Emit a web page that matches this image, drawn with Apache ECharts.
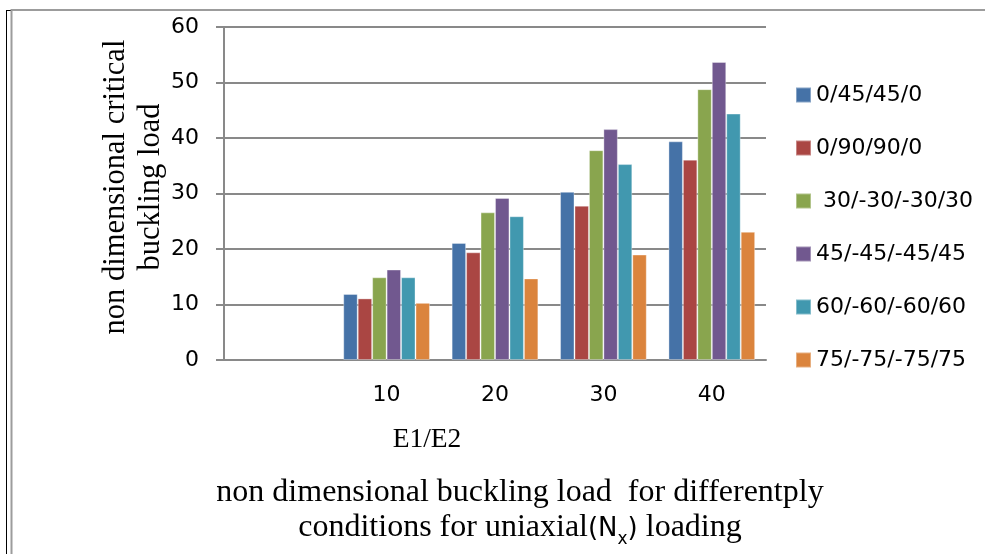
<!DOCTYPE html>
<html>
<head>
<meta charset="utf-8">
<script src="https://cdn.jsdelivr.net/npm/echarts@6/dist/echarts.min.js"></script>
<style>
  html, body { margin: 0; padding: 0; background: #ffffff; }
  #chart { width: 985px; height: 554px; }
</style>
</head>
<body>
<div id="chart"></div>
<script>
// E1/E2 ratio categories (first slot left empty)
const categories = ['', '10', '20', '30', '40'];

// Ply layups
const seriesNames = ['0/45/45/0', '0/90/90/0', ' 30/-30/-30/30', '45/-45/-45/45', '60/-60/-60/60', '75/-75/-75/75'];

// Non-dimensional critical buckling load per layup
const layup0_45   = [null, 11.9, 21.1, 30.3, 39.4];
const layup0_90   = [null, 11.1, 19.4, 27.8, 36.1];
const layup30_30  = [null, 14.9, 26.6, 37.8, 48.8];
const layup45_45  = [null, 16.3, 29.2, 41.6, 53.7];
const layup60_60  = [null, 14.9, 25.9, 35.3, 44.4];
const layup75_75  = [null, 10.3, 14.7, 19.0, 23.1];

const yTicks = { min: 0, max: 60, interval: 10 };

const palette = ['#4572A7', '#AA4643', '#89A54E', '#71588F', '#4198AF', '#DB843D'];

const seriesValues = [layup0_45, layup0_90, layup30_30, layup45_45, layup60_60, layup75_75];

const SANS = 'DejaVu Sans';
const SERIF = 'Liberation Serif';
const GRID_GRAY = '#898989';

const chart = echarts.init(document.getElementById('chart'), null, { renderer: 'canvas' });

const option = {
  backgroundColor: '#ffffff',
  animation: false,
  color: palette,
  grid: { left: 224, right: 219, top: 27, bottom: 194 },
  legend: {
    orient: 'vertical',
    left: 795,
    top: 84,
    padding: 0,
    itemWidth: 15,
    itemHeight: 15,
    itemGap: 31,
    icon: 'rect',
    data: seriesNames,
    textStyle: { fontFamily: SANS, fontSize: 22, color: '#000000', lineHeight: 15 }
  },
  xAxis: {
    type: 'category',
    data: categories,
    axisLine: { show: true, lineStyle: { color: GRID_GRAY, width: 2 } },
    axisTick: { show: false },
    axisLabel: { fontFamily: SANS, fontSize: 22, color: '#000000', margin: 24 },
    splitLine: { show: false }
  },
  yAxis: {
    type: 'value',
    min: yTicks.min,
    max: yTicks.max,
    interval: yTicks.interval,
    axisLine: { show: true, lineStyle: { color: GRID_GRAY, width: 2 } },
    axisTick: { show: true, length: 8, lineStyle: { color: GRID_GRAY, width: 2 } },
    axisLabel: { fontFamily: SANS, fontSize: 22, color: '#000000', margin: 25 },
    splitLine: { show: true, lineStyle: { color: GRID_GRAY, width: 2 } }
  },
  series: seriesNames.map((name, i) => ({
    name: name,
    type: 'bar',
    data: seriesValues[i],
    barGap: '0%',
    barCategoryGap: '20%',
    itemStyle: { color: palette[i], borderColor: 'rgba(255,255,255,0.35)', borderWidth: 1 }
  })),
  graphic: [
    // outer frame
    { type: 'line', silent: true, shape: { x1: 6.5, y1: 10, x2: 6.5, y2: 554 }, style: { stroke: '#000000', lineWidth: 1 } },
    { type: 'line', silent: true, shape: { x1: 6, y1: 10.5, x2: 11, y2: 10.5 }, style: { stroke: '#000000', lineWidth: 1 } },
    { type: 'line', silent: true, shape: { x1: 11.5, y1: 9, x2: 11.5, y2: 554 }, style: { stroke: '#9c9c9c', lineWidth: 2 } },
    { type: 'line', silent: true, shape: { x1: 11, y1: 10, x2: 985, y2: 10 }, style: { stroke: '#9c9c9c', lineWidth: 2 } },
    // value axis title
    {
      type: 'text', silent: true,
      x: 133, y: 187, rotation: Math.PI / 2,
      style: {
        text: 'non dimensional critical\nbuckling load',
        fontFamily: SERIF, fontSize: 30.5, lineHeight: 35,
        fill: '#000000', align: 'center', verticalAlign: 'middle'
      }
    },
    // category axis title
    {
      type: 'text', silent: true,
      x: 427, y: 440,
      style: {
        text: 'E1/E2',
        fontFamily: SERIF, fontSize: 27.5,
        fill: '#000000', align: 'center', verticalAlign: 'middle'
      }
    },
    // caption
    {
      type: 'text', silent: true,
      x: 520, y: 509,
      style: {
        text: '{t|non dimensional buckling load  for differentply}\n{t|conditions for uniaxial}{s|(N}{sub|x}{s|)}{t| loading}',
        fill: '#000000', align: 'center', verticalAlign: 'middle',
        rich: {
          t: { fontFamily: SERIF, fontSize: 32, lineHeight: 35, fill: '#000000', verticalAlign: 'bottom' },
          s: { fontFamily: SANS, fontSize: 26, lineHeight: 35, fill: '#000000', verticalAlign: 'bottom', padding: [0, 0, 2, 0] },
          sub: { fontFamily: SANS, fontSize: 17, lineHeight: 35, fill: '#000000', verticalAlign: 'bottom', padding: [0, 0, -4, 0] }
        }
      }
    }
  ]
};

chart.setOption(option);
</script>
</body>
</html>
